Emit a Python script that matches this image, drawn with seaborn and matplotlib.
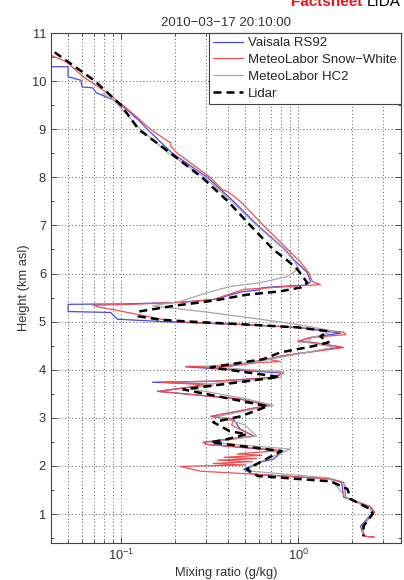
import numpy as np
import pandas as pd
import matplotlib
matplotlib.use('Agg')
import matplotlib.pyplot as plt
import seaborn as sns
from matplotlib.lines import Line2D
from matplotlib.ticker import LogLocator, MultipleLocator, NullFormatter

sns.set_style('ticks')
plt.rcParams['font.family'] = ['Liberation Sans', 'DejaVu Sans']
plt.rcParams['mathtext.fontset'] = 'custom'
plt.rcParams['mathtext.rm'] = 'Liberation Sans'

# ------------------------------------------------
# profiles (height km, mixing ratio g/kg)
# ------------------------------------------------

lidar_h = [10.60, 10.02, 9.51, 9.00, 8.50, 8.00, 7.50, 7.00, 6.50, 6.25, 6.08, 5.81, 5.71, 5.63,
           5.56, 5.46, 5.40, 5.34, 5.21, 5.11, 5.04, 5.00, 4.94, 4.88, 4.80, 4.69, 4.57, 4.49,
           4.36, 4.22, 4.05, 3.85, 3.59, 3.24, 3.03, 2.91, 2.72, 2.66, 2.56, 2.49, 2.31, 1.93,
           1.79, 1.68, 1.52, 1.31, 1.10, 1.00, 0.75, 0.54]
lidar_q = [0.042, 0.070, 0.099, 0.125, 0.190, 0.285, 0.40, 0.535, 0.72, 0.88, 0.99, 1.12, 1.03, 0.79,
           0.51, 0.36, 0.28, 0.207, 0.125, 0.125, 0.166, 0.245, 0.51, 0.99, 1.46, 1.33, 1.48, 1.21,
           0.79, 0.634, 0.32, 0.78, 0.224, 0.67, 0.47, 0.33, 0.41, 0.51, 0.40, 0.32, 0.80, 0.51,
           0.59, 1.52, 1.89, 1.97, 2.55, 2.62, 2.33, 2.33]

rs92_h = [10.30, 10.30, 10.09, 10.02, 9.88, 9.86, 9.76, 9.61, 9.40, 9.19, 9.00, 8.50, 8.00, 7.50,
          7.00, 6.50, 6.29, 6.02, 5.83, 5.76, 5.72, 5.70, 5.66, 5.62, 5.46, 5.40, 5.37, 5.36,
          5.21, 5.19, 5.05, 4.99, 4.94, 4.88, 4.76, 4.67, 4.59, 4.56, 4.47, 4.28, 4.22, 4.07,
          4.06, 3.93, 3.84, 3.76, 3.74, 3.70, 3.64, 3.55, 3.39, 3.26, 3.03, 2.97, 2.76, 2.62,
          2.56, 2.49, 2.45, 2.31, 2.14, 2.08, 1.93, 1.83, 1.73, 1.66, 1.35, 1.15, 1.04, 0.75,
          0.54, 0.52]
rs92_q = [0.040, 0.050, 0.050, 0.059, 0.060, 0.069, 0.072, 0.090, 0.108, 0.125, 0.140, 0.194, 0.306, 0.43,
          0.59, 0.84, 0.94, 1.12, 1.17, 1.10, 0.70, 0.62, 0.60, 0.48, 0.33, 0.215, 0.11, 0.05,
          0.05, 0.087, 0.095, 0.197, 0.47, 0.99, 1.73, 1.17, 1.00, 1.25, 1.75, 0.79, 0.67, 0.40,
          0.23, 0.82, 0.72, 0.33, 0.15, 0.30, 0.245, 0.16, 0.47, 0.69, 0.32, 0.43, 0.47, 0.56,
          0.41, 0.29, 0.30, 0.82, 0.72, 0.61, 0.49, 0.55, 1.52, 1.75, 1.80, 2.55, 2.65, 2.24,
          2.33, 2.65]

snow_h = [10.54, 10.40, 10.09, 9.76, 9.46, 9.19, 9.00, 8.80, 8.72, 8.65, 8.50, 8.00, 7.75, 7.70,
          7.50, 7.00, 6.50, 6.23, 6.02, 5.83, 5.77, 5.75, 5.72, 5.67, 5.46, 5.40, 5.36, 5.34,
          5.30, 5.25, 5.11, 5.00, 4.94, 4.88, 4.78, 4.73, 4.67, 4.59, 4.57, 4.46, 4.30, 4.22,
          4.17, 4.15, 4.07, 4.07, 3.95, 3.84, 3.76, 3.74, 3.68, 3.64, 3.55, 3.39, 3.26, 3.03,
          2.97, 2.85, 2.76, 2.62, 2.56, 2.49, 2.45, 2.32, 2.25, 2.22, 2.18, 2.15, 2.12, 2.09,
          2.05, 2.02, 1.99, 1.89, 1.83, 1.73, 1.66, 1.35, 1.15, 1.04, 0.75, 0.54, 0.52]
snow_q = [0.040, 0.049, 0.061, 0.083, 0.105, 0.128, 0.146, 0.175, 0.190, 0.190, 0.207, 0.318, 0.37, 0.40,
          0.47, 0.634, 0.87, 1.03, 1.14, 1.20, 1.33, 1.05, 0.80, 0.49, 0.33, 0.215, 0.113, 0.069,
          0.075, 0.09, 0.14, 0.197, 0.50, 1.00, 1.80, 1.85, 1.17, 0.99, 1.20, 1.80, 0.85, 0.67,
          0.79, 0.60, 0.40, 0.236, 0.82, 0.75, 0.33, 0.17, 0.33, 0.245, 0.163, 0.47, 0.67, 0.32,
          0.43, 0.42, 0.47, 0.56, 0.41, 0.29, 0.30, 0.80, 0.45, 0.62, 0.38, 0.58, 0.35, 0.55,
          0.33, 0.50, 0.215, 0.28, 0.55, 1.52, 1.80, 1.85, 2.55, 2.70, 2.30, 2.35, 2.70]

hc2_h = [9.75, 9.61, 9.19, 9.00, 8.50, 8.00, 7.50, 7.00, 6.50, 6.23, 6.10, 5.94, 5.81, 5.73,
         5.61, 5.42, 5.33, 5.20, 5.05, 4.94, 4.80, 4.67, 4.57, 4.47, 4.28, 4.15, 4.07, 3.95,
         3.84, 3.70, 3.60, 3.40, 3.26, 3.03, 2.85, 2.62, 2.49, 2.35, 2.10, 1.90, 1.75, 1.35,
         1.10, 1.00, 0.75, 0.54]
hc2_q = [0.078, 0.090, 0.115, 0.128, 0.185, 0.295, 0.42, 0.58, 0.83, 0.96, 1.00, 0.87, 0.61, 0.41,
         0.31, 0.215, 0.15, 0.30, 0.61, 0.99, 1.60, 1.20, 1.10, 1.60, 0.85, 0.55, 0.30, 0.80,
         0.80, 0.30, 0.25, 0.50, 0.72, 0.35, 0.50, 0.58, 0.32, 0.90, 0.62, 0.50, 1.50, 1.85,
         2.55, 2.60, 2.30, 2.30]

names = ['Vaisala RS92', 'MeteoLabor Snow\u2212White', 'MeteoLabor HC2', 'Lidar']
colors = ['#4a4ae6', '#f05050', '#a8a8a8', 'black']
dash = (0, (3.2, 2.0))

frames = []
for name, h, q in zip(names, [rs92_h, snow_h, hc2_h, lidar_h], [rs92_q, snow_q, hc2_q, lidar_q]):
    frames.append(pd.DataFrame({'height': h, 'q': q, 'series': name}))
df = pd.concat(frames, ignore_index=True)

fig = plt.figure(figsize=(4.04, 5.80), dpi=100)
ax = fig.add_axes([0.126, 0.064, 0.867, 0.879])

# sondes first, lidar dashed on top
for name, col in zip(names[:3], colors[:3]):
    sub = df[df['series'] == name]
    sns.lineplot(data=sub, x='q', y='height', sort=False, estimator=None, color=col,
                 linewidth=0.9, ax=ax, legend=False)
sub = df[df['series'] == 'Lidar']
sns.lineplot(data=sub, x='q', y='height', sort=False, estimator=None, color='black',
             linewidth=1.8, ax=ax, legend=False)
ax.lines[-1].set_linestyle(dash)

ax.set_xscale('log')
ax.set_xlim(0.04, 3.8)
ax.set_ylim(0.4, 11)
ax.xaxis.set_major_locator(LogLocator(base=10, numticks=10))
ax.xaxis.set_minor_locator(LogLocator(base=10, subs=np.arange(2, 10), numticks=20))
ax.xaxis.set_minor_formatter(NullFormatter())
ax.yaxis.set_minor_locator(MultipleLocator(0.5))
ax.set_yticks(range(1, 12))

ax.grid(True, which='major', axis='both', color='#555555', linestyle=(0, (1, 2.5)), linewidth=0.7)
ax.grid(True, which='minor', axis='x', color='#555555', linestyle=(0, (1, 2.5)), linewidth=0.7)

ax.tick_params(which='both', direction='in', top=True, right=True, labelsize=9.3, colors='#333333')
ax.tick_params(which='major', length=4, width=0.6)
ax.tick_params(which='minor', length=2.5, width=0.6)
for s in ax.spines.values():
    s.set_color('#444444')
    s.set_linewidth(0.8)

ax.set_xlabel('Mixing ratio (g/kg)', fontsize=9.3, color='#333333', labelpad=3)
ax.set_ylabel('Height (km asl)', fontsize=9.3, color='#333333', labelpad=1)
ax.set_title('2010\u221203\u221217 20:10:00', fontsize=9.5, color='#333333', pad=5)

handles = [Line2D([], [], color=colors[0], lw=0.9),
           Line2D([], [], color=colors[1], lw=0.9),
           Line2D([], [], color=colors[2], lw=0.9),
           Line2D([], [], color='black', lw=1.8, linestyle=dash)]
leg = ax.legend(handles, names, loc='upper right', fontsize=9.5, frameon=True, fancybox=False,
                edgecolor='#444444', framealpha=1, handlelength=2.3, borderpad=0.3,
                labelspacing=0.35, handletextpad=0.4, borderaxespad=0.0)
leg.get_frame().set_linewidth(0.8)

fig.text(0.72, 0.99, 'Factsheet', color='#e8141c', fontsize=11, fontweight='bold', va='baseline')
fig.text(0.908, 0.99, 'LIDA', color='black', fontsize=11, va='baseline')

fig.savefig('out.png', dpi=100)
